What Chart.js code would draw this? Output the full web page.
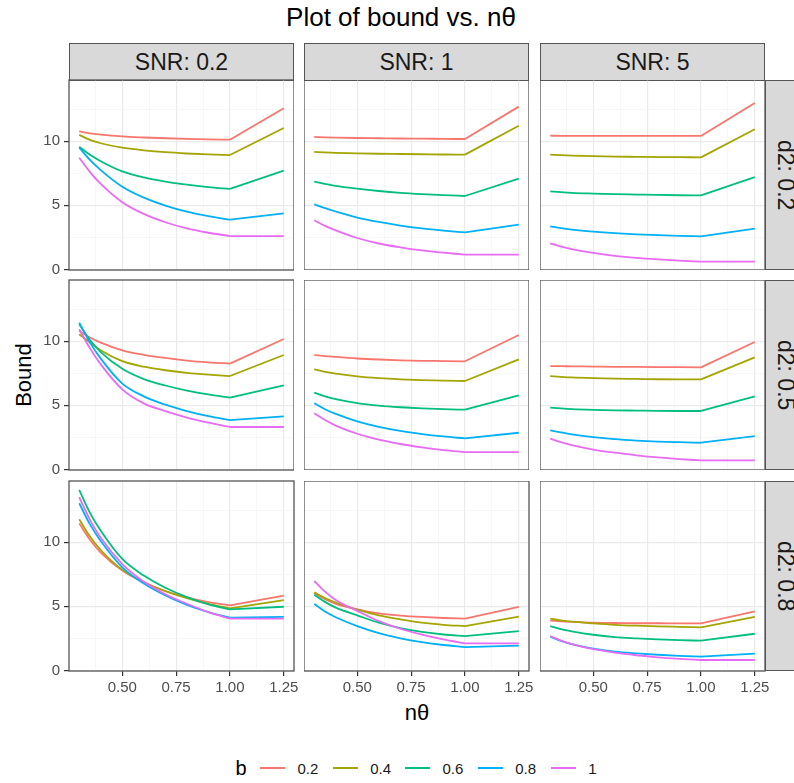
<!DOCTYPE html>
<html>
<head>
<meta charset="utf-8">
<script src="https://cdn.jsdelivr.net/npm/chart.js@4.4.1/dist/chart.umd.min.js"></script>
<style>
  body { margin: 0; background: #fff; font-family: "Liberation Sans", Arial, Helvetica, sans-serif; }
  #fig { position: relative; width: 794px; height: 783px; overflow: hidden; background: #fff; }
  .txt { position: absolute; white-space: nowrap; color: #000; }
  .strip { position: absolute; box-sizing: border-box; background: #D9D9D9; border: 1.3px solid #555;
           color: #1A1A1A; font-size: 23px; display: flex; align-items: center; justify-content: center; }
  .vstrip { writing-mode: vertical-rl; }
  .key { position: absolute; height: 2px; width: 25px; }
  canvas { position: absolute; }
</style>
</head>
<body>
<div id="fig"></div>
<script>
// x positions (nθ) shared by every curve
const nTheta = [0.3, 0.35, 0.4, 0.5, 0.6, 0.7, 0.8, 0.9, 1.0, 1.25];

// facet levels and colour groups
const snrLevels = ['0.2', '1', '5'];
const d2Levels = ['0.2', '0.5', '0.8'];
const bLevels = ['0.2', '0.4', '0.6', '0.8', '1'];

// axis ticks (major + minor grid positions) and which ones carry labels
const yTickValues = [0, 2.5, 5, 7.5, 10, 12.5];
const yTickLabels = [0, 5, 10];
const xTickValues = [0.375, 0.5, 0.625, 0.75, 0.875, 1.0, 1.125, 1.25];
const xTickLabels = [0.5, 0.75, 1.0, 1.25];

// Bound values, one row per b level (0.2, 0.4, 0.6, 0.8, 1)
const bound_d2_02_snr_02 = [
  [10.78, 10.62, 10.52, 10.38, 10.30, 10.24, 10.19, 10.15, 10.13, 12.58],
  [10.50, 10.12, 9.85, 9.50, 9.30, 9.15, 9.05, 8.98, 8.93, 11.04],
  [9.58, 8.95, 8.45, 7.65, 7.18, 6.86, 6.62, 6.43, 6.28, 7.71],
  [9.50, 8.55, 7.75, 6.45, 5.60, 4.98, 4.50, 4.15, 3.88, 4.38],
  [8.72, 7.60, 6.68, 5.25, 4.33, 3.68, 3.20, 2.86, 2.60, 2.60]
];
const bound_d2_02_snr_1 = [
  [10.34, 10.31, 10.29, 10.26, 10.24, 10.22, 10.21, 10.19, 10.18, 12.71],
  [9.17, 9.13, 9.10, 9.06, 9.03, 9.01, 8.99, 8.97, 8.96, 11.22],
  [6.85, 6.68, 6.52, 6.30, 6.12, 5.98, 5.88, 5.80, 5.73, 7.08],
  [5.08, 4.78, 4.52, 4.05, 3.70, 3.42, 3.20, 3.03, 2.89, 3.49],
  [3.83, 3.40, 3.05, 2.45, 2.02, 1.72, 1.48, 1.30, 1.15, 1.15]
];
const bound_d2_02_snr_5 = [
  [10.44, 10.43, 10.43, 10.42, 10.42, 10.42, 10.42, 10.42, 10.42, 13.00],
  [8.96, 8.92, 8.89, 8.84, 8.81, 8.79, 8.77, 8.76, 8.75, 10.94],
  [6.09, 6.03, 5.98, 5.92, 5.87, 5.84, 5.81, 5.79, 5.78, 7.21],
  [3.36, 3.22, 3.11, 2.95, 2.83, 2.74, 2.67, 2.62, 2.58, 3.18],
  [2.03, 1.78, 1.58, 1.28, 1.06, 0.90, 0.78, 0.68, 0.60, 0.60]
];
const bound_d2_05_snr_02 = [
  [10.80, 10.30, 9.90, 9.30, 8.95, 8.70, 8.50, 8.36, 8.26, 10.18],
  [10.55, 9.90, 9.30, 8.45, 8.02, 7.74, 7.54, 7.40, 7.29, 8.93],
  [11.33, 10.10, 9.15, 7.85, 7.05, 6.55, 6.15, 5.85, 5.60, 6.56],
  [11.46, 9.90, 8.65, 6.70, 5.70, 5.05, 4.55, 4.15, 3.85, 4.14],
  [10.94, 9.45, 8.20, 6.25, 5.15, 4.55, 4.05, 3.65, 3.31, 3.31]
];
const bound_d2_05_snr_1 = [
  [8.93, 8.85, 8.78, 8.66, 8.58, 8.52, 8.48, 8.46, 8.44, 10.49],
  [7.81, 7.62, 7.48, 7.26, 7.12, 7.03, 6.97, 6.93, 6.90, 8.59],
  [5.99, 5.70, 5.48, 5.18, 4.98, 4.85, 4.76, 4.70, 4.66, 5.78],
  [5.16, 4.70, 4.33, 3.75, 3.32, 3.00, 2.76, 2.57, 2.42, 2.86],
  [4.38, 3.85, 3.42, 2.78, 2.32, 1.98, 1.72, 1.51, 1.35, 1.35]
];
const bound_d2_05_snr_5 = [
  [8.07, 8.06, 8.05, 8.03, 8.01, 8.00, 7.99, 7.98, 7.97, 9.95],
  [7.29, 7.23, 7.18, 7.12, 7.08, 7.06, 7.04, 7.03, 7.03, 8.75],
  [4.82, 4.76, 4.71, 4.65, 4.61, 4.59, 4.57, 4.56, 4.56, 5.70],
  [3.05, 2.88, 2.74, 2.52, 2.36, 2.25, 2.17, 2.12, 2.08, 2.60],
  [2.40, 2.12, 1.90, 1.55, 1.30, 1.10, 0.93, 0.80, 0.70, 0.70]
];
const bound_d2_08_snr_02 = [
  [11.48, 10.20, 9.20, 7.80, 6.88, 6.20, 5.70, 5.33, 5.08, 5.83],
  [11.80, 10.45, 9.40, 7.85, 6.88, 6.18, 5.65, 5.20, 4.84, 5.49],
  [14.09, 12.30, 10.90, 8.70, 7.40, 6.45, 5.72, 5.15, 4.77, 4.97],
  [13.05, 11.40, 10.10, 8.05, 6.78, 5.85, 5.12, 4.55, 4.11, 4.17],
  [13.52, 11.75, 10.35, 8.30, 6.92, 5.95, 5.20, 4.55, 4.04, 4.04]
];
const bound_d2_08_snr_1 = [
  [6.02, 5.55, 5.20, 4.77, 4.45, 4.28, 4.17, 4.09, 4.04, 4.95],
  [6.09, 5.65, 5.30, 4.75, 4.30, 3.98, 3.72, 3.56, 3.46, 4.19],
  [5.91, 5.35, 4.90, 4.30, 3.72, 3.30, 3.00, 2.80, 2.68, 3.07],
  [5.18, 4.60, 4.15, 3.45, 2.90, 2.50, 2.20, 1.98, 1.82, 1.93],
  [6.98, 6.15, 5.50, 4.65, 3.85, 3.25, 2.80, 2.42, 2.11, 2.11]
];
const bound_d2_08_snr_5 = [
  [3.88, 3.82, 3.78, 3.72, 3.70, 3.68, 3.68, 3.67, 3.67, 4.61],
  [4.04, 3.90, 3.80, 3.67, 3.56, 3.49, 3.44, 3.40, 3.36, 4.17],
  [3.46, 3.22, 3.05, 2.78, 2.60, 2.50, 2.42, 2.36, 2.32, 2.86],
  [2.63, 2.30, 2.05, 1.70, 1.47, 1.33, 1.22, 1.13, 1.07, 1.30],
  [2.68, 2.32, 2.05, 1.65, 1.38, 1.18, 1.02, 0.90, 0.81, 0.81]
];

const panelGrid = [
  [bound_d2_02_snr_02, bound_d2_02_snr_1, bound_d2_02_snr_5],
  [bound_d2_05_snr_02, bound_d2_05_snr_1, bound_d2_05_snr_5],
  [bound_d2_08_snr_02, bound_d2_08_snr_1, bound_d2_08_snr_5]
];

// ggplot default hue palette for 5 groups
const hue = ['#F8766D', '#A3A500', '#00BF7D', '#00B0F6', '#E76BF3'];

// layout
const FONT = '"Liberation Sans", Arial, Helvetica, sans-serif';
const colLeft = [69, 304, 540];
const rowTop = [80, 280, 481];
const PW = 225, PH = 190;
const fig = document.getElementById('fig');

function addText(txt, css) {
  const d = document.createElement('div');
  d.className = 'txt';
  d.textContent = txt;
  Object.assign(d.style, css);
  fig.appendChild(d);
  return d;
}

// title and axis titles
addText('Plot of bound vs. nθ', { left: '401px', top: '17px', transform: 'translate(-50%,-50%)', fontSize: '26px' });
addText('Bound', { left: '24px', top: '375px', transform: 'translate(-50%,-50%) rotate(-90deg)', fontSize: '22px' });
addText('nθ', { left: '417px', top: '713px', transform: 'translate(-50%,-50%)', fontSize: '22px' });

// facet strips
snrLevels.forEach((s, c) => {
  const d = document.createElement('div');
  d.className = 'strip';
  Object.assign(d.style, { left: colLeft[c] + 'px', top: '43px', width: PW + 'px', height: '38px' });
  d.textContent = 'SNR: ' + s;
  fig.appendChild(d);
});
d2Levels.forEach((s, r) => {
  const d = document.createElement('div');
  d.className = 'strip vstrip';
  Object.assign(d.style, { left: '765px', top: rowTop[r] + 'px', width: '40px', height: PH + 'px' });
  d.textContent = 'd2: ' + s;
  fig.appendChild(d);
});

// legend
addText('b', { left: '241px', top: '768px', transform: 'translate(-50%,-50%)', fontSize: '20px' });
const keyLeft = [260, 332.7, 405, 477.7, 550.7];
bLevels.forEach((b, i) => {
  const k = document.createElement('div');
  k.className = 'key';
  Object.assign(k.style, { left: keyLeft[i] + 'px', top: '767px', background: hue[i] });
  fig.appendChild(k);
  addText(b, { left: (keyLeft[i] + 37.5) + 'px', top: '768px', transform: 'translateY(-50%)', fontSize: '15px', color: '#1A1A1A' });
});

// panel frame drawn over the lines
const panelBorder = {
  id: 'panelBorder',
  afterDraw(chart) {
    const a = chart.chartArea, ctx = chart.ctx;
    ctx.save();
    ctx.strokeStyle = '#555';
    ctx.lineWidth = 1.3;
    ctx.strokeRect(a.left, a.top, a.right - a.left, a.bottom - a.top);
    ctx.restore();
  }
};

const isMajor = (v, list) => list.some(t => Math.abs(t - v) < 1e-9);

// each b curve: smooth decreasing part up to nθ = 1, then a straight segment to 1.25
function curveDatasets(series) {
  const out = [];
  bLevels.forEach((b, i) => {
    const pts = nTheta.map((x, k) => ({ x: x, y: series[i][k] }));
    const common = { borderColor: hue[i], backgroundColor: hue[i], borderWidth: 1.8, pointRadius: 0, fill: false, order: 4 - i };
    out.push(Object.assign({ label: b, data: pts.filter(p => p.x <= 1.0), cubicInterpolationMode: 'monotone' }, common));
    out.push(Object.assign({ label: b, data: pts.filter(p => p.x >= 1.0), tension: 0 }, common));
  });
  return out;
}

for (let r = 0; r < 3; r++) {
  for (let c = 0; c < 3; c++) {
    const series = panelGrid[r][c];
    const leftPad = c === 0 ? 69 : 0;
    const topPad = c === 0 ? 14 : 0;
    const bottomAxis = r === 2 ? 45 : 0;
    const bottomPad = (c === 0 && r < 2) ? 14 : 0;
    const rightPad = r === 2 ? 24 : 0;
    const cv = document.createElement('canvas');
    const w = PW + leftPad + rightPad, h = PH + topPad + bottomAxis + bottomPad;
    cv.width = w; cv.height = h;
    Object.assign(cv.style, { left: (colLeft[c] - leftPad) + 'px', top: (rowTop[r] - topPad) + 'px', width: w + 'px', height: h + 'px' });
    fig.appendChild(cv);

    new Chart(cv, {
      type: 'line',
      data: { datasets: curveDatasets(series) },
      options: {
        responsive: false,
        animation: false,
        devicePixelRatio: 1,
        layout: { padding: { left: 0, right: rightPad, top: topPad, bottom: bottomPad } },
        plugins: { legend: { display: false }, tooltip: { enabled: false } },
        scales: {
          x: {
            type: 'linear',
            min: 0.2525,
            max: 1.2975,
            afterBuildTicks: s => { s.ticks = xTickValues.map(v => ({ value: v })); },
            afterFit: s => { s.height = bottomAxis; },
            border: { display: false },
            grid: {
              color: ctx => (ctx.tick && isMajor(ctx.tick.value, xTickLabels)) ? '#EBEBEB' : '#F3F3F3',
              lineWidth: ctx => (ctx.tick && isMajor(ctx.tick.value, xTickLabels)) ? 1.2 : 0.7,
              drawTicks: r === 2,
              tickLength: 5,
              tickWidth: 1.2,
              tickColor: ctx => (ctx.tick && isMajor(ctx.tick.value, xTickLabels)) ? '#333333' : 'rgba(0,0,0,0)'
            },
            ticks: {
              display: r === 2,
              autoSkip: false,
              maxRotation: 0,
              minRotation: 0,
              padding: 3,
              color: '#4D4D4D',
              font: { size: 15, family: FONT },
              callback: v => isMajor(v, xTickLabels) ? Number(v).toFixed(2) : ''
            }
          },
          y: {
            type: 'linear',
            min: -0.05,
            max: 14.79,
            afterBuildTicks: s => { s.ticks = yTickValues.map(v => ({ value: v })); },
            afterFit: s => { s.width = leftPad; },
            border: { display: false },
            grid: {
              color: ctx => (ctx.tick && isMajor(ctx.tick.value, yTickLabels)) ? '#EBEBEB' : '#F3F3F3',
              lineWidth: ctx => (ctx.tick && isMajor(ctx.tick.value, yTickLabels)) ? 1.2 : 0.7,
              drawTicks: c === 0,
              tickLength: 5,
              tickWidth: 1.2,
              tickColor: ctx => (ctx.tick && isMajor(ctx.tick.value, yTickLabels)) ? '#333333' : 'rgba(0,0,0,0)'
            },
            ticks: {
              display: c === 0,
              autoSkip: false,
              padding: 4,
              color: '#4D4D4D',
              font: { size: 15, family: FONT },
              callback: v => isMajor(v, yTickLabels) ? String(v) : ''
            }
          }
        }
      },
      plugins: [panelBorder]
    });
  }
}
</script>
</body>
</html>
